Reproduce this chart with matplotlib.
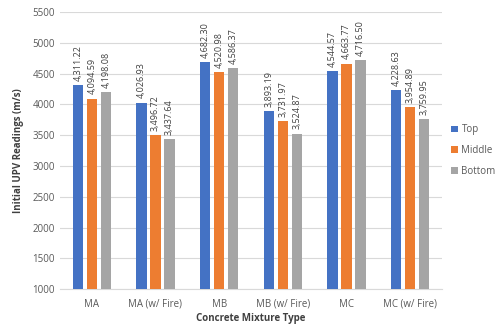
import matplotlib.pyplot as plt
import numpy as np

# Data
categories = ["MA", "MA (w/ Fire)", "MB", "MB (w/ Fire)", "MC", "MC (w/ Fire)"]
top = [4311.22, 4026.93, 4682.30, 3893.19, 4544.57, 4228.63]
middle = [4094.59, 3496.72, 4520.98, 3731.97, 4663.77, 3954.89]
bottom = [4198.08, 3437.64, 4586.37, 3524.87, 4716.50, 3759.95]
series_names = ["Top", "Middle", "Bottom"]
colors = ["#4472C4", "#ED7D31", "#A5A5A5"]

plt.rcParams['font.family'] = ['Open Sans', 'DejaVu Sans']

fig = plt.figure(figsize=(5, 3.26), dpi=100)
ax = fig.add_axes([0.12, 0.113, 0.764, 0.85])

x = np.arange(len(categories))
width = 0.165
step = 0.22
for i, (vals, name, col) in enumerate(zip([top, middle, bottom], series_names, colors)):
    pos = x + (i - 1) * step
    ax.bar(pos, vals, width, color=col, label=name, zorder=3)
    for p, v in zip(pos, vals):
        ax.text(p, v + 70, f"{v:,.2f}", rotation=90, ha='center', va='bottom',
                fontsize=6.5, color="#404040", zorder=4)

ax.set_xlim(-0.5, len(categories) - 0.5)
ax.set_ylim(1000, 5500)
ax.set_yticks(range(1000, 5501, 500))
ax.set_xticks(x)
ax.set_xticklabels(categories)
ax.tick_params(axis='both', length=0, labelsize=7, colors="#595959")
ax.tick_params(axis='x', pad=7)
ax.grid(axis='y', color="#D9D9D9", linewidth=0.8, zorder=0)
for s in ["top", "right", "left"]:
    ax.spines[s].set_visible(False)
ax.spines["bottom"].set_color("#D9D9D9")

ax.set_xlabel("Concrete Mixture Type", fontsize=7, fontweight='bold', color="#404040", labelpad=2)
ax.set_ylabel("Initial UPV Readings (m/s)", fontsize=7, fontweight='bold', color="#404040", labelpad=6)

ax.legend(loc='center left', bbox_to_anchor=(1.0, 0.5), frameon=False, fontsize=7,
          handlelength=0.7, handleheight=0.7, handletextpad=0.4, labelspacing=1.0,
          labelcolor="#595959")

fig.savefig("out.png", dpi=100)
